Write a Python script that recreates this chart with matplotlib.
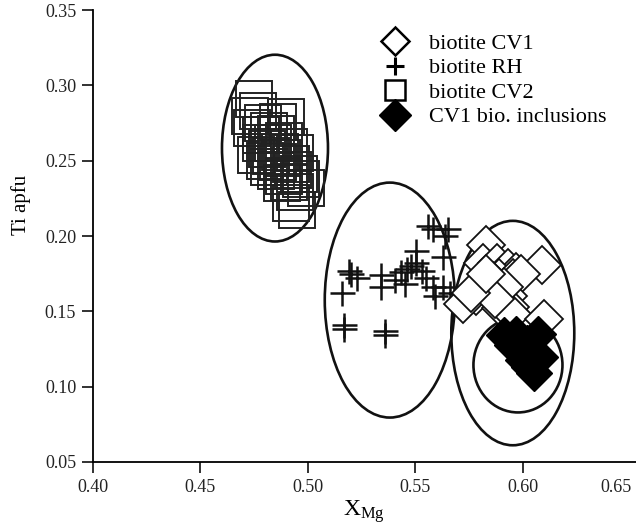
import matplotlib
matplotlib.use("Agg")
import matplotlib.pyplot as plt
import matplotlib.transforms as mtransforms
from matplotlib.patches import Ellipse
from matplotlib.lines import Line2D

plt.rcParams['font.family'] = ['Liberation Serif', 'DejaVu Serif']
plt.rcParams['mathtext.fontset'] = 'custom'
plt.rcParams['mathtext.rm'] = 'Liberation Serif'
plt.rcParams['mathtext.it'] = 'Liberation Serif:italic'

# biotite CV2 (open squares)
cv2_x = [0.475, 0.473, 0.477, 0.490, 0.474, 0.479, 0.482, 0.485, 0.478, 0.481,
         0.484, 0.487, 0.489, 0.491, 0.476, 0.480, 0.483, 0.486, 0.488, 0.492,
         0.494, 0.485, 0.489, 0.493, 0.496, 0.482, 0.488, 0.491, 0.497, 0.494,
         0.492, 0.495, 0.499, 0.478, 0.486]
cv2_y = [0.291, 0.280, 0.283, 0.279, 0.272, 0.275, 0.270, 0.268, 0.262, 0.258,
         0.262, 0.256, 0.263, 0.259, 0.254, 0.250, 0.253, 0.249, 0.252, 0.248,
         0.255, 0.243, 0.240, 0.244, 0.241, 0.246, 0.235, 0.236, 0.238, 0.229,
         0.222, 0.217, 0.232, 0.267, 0.276]

# biotite RH (plus)
rh_x = [0.556, 0.558, 0.565, 0.564, 0.5505, 0.563, 0.519, 0.520, 0.523, 0.534,
        0.534, 0.5405, 0.5435, 0.546, 0.548, 0.5505, 0.553, 0.558, 0.559, 0.563,
        0.566, 0.516, 0.517, 0.517, 0.536, 0.536, 0.545, 0.555]
rh_y = [0.207, 0.205, 0.205, 0.200, 0.190, 0.186, 0.177, 0.175, 0.172, 0.174,
        0.166, 0.171, 0.176, 0.178, 0.180, 0.182, 0.177, 0.166, 0.160, 0.166,
        0.162, 0.162, 0.141, 0.138, 0.137, 0.134, 0.168, 0.172]

# biotite CV1 (open diamonds)
cv1_x = [0.583, 0.609, 0.5815, 0.588, 0.593, 0.597, 0.589, 0.586, 0.5815, 0.580,
         0.578, 0.572, 0.5955, 0.599, 0.593, 0.594, 0.590, 0.595, 0.610, 0.585,
         0.591, 0.587, 0.576, 0.583]
cv1_y = [0.194, 0.181, 0.182, 0.182, 0.179, 0.176, 0.172, 0.170, 0.168, 0.164,
         0.160, 0.155, 0.172, 0.175, 0.160, 0.153, 0.152, 0.148, 0.145, 0.163,
         0.166, 0.158, 0.162, 0.175]

# CV1 bio. inclusions (filled diamonds)
inc_x = [0.591, 0.597, 0.607, 0.602, 0.605, 0.608, 0.603, 0.605, 0.595, 0.600]
inc_y = [0.134, 0.135, 0.135, 0.129, 0.122, 0.120, 0.113, 0.109, 0.128, 0.118]

# ellipses: centre x, centre y, width, height
ell_x = [0.4847, 0.5381, 0.5953, 0.5977]
ell_y = [0.2584, 0.1575, 0.1356, 0.1144]
ell_w = [0.0493, 0.0605, 0.0572, 0.0414]
ell_h = [0.124, 0.156, 0.149, 0.063]

fig = plt.figure(figsize=(6.36, 5.26), dpi=100)
ax = fig.add_axes([0.146, 0.1217, 0.854, 0.859])

ax.plot(cv2_x, cv2_y, 's', ms=26, mfc='none', mec='#222222', mew=1.4)
ax.plot(rh_x, rh_y, '+', ms=18, mec='#111111', mew=1.8)
ax.plot(cv1_x, cv1_y, 'D', ms=19, mfc='white', mec='#111111', mew=1.3)
ax.plot(inc_x, inc_y, 'D', ms=18, mfc='black', mec='black', mew=1)

for x, y, w, h in zip(ell_x, ell_y, ell_w, ell_h):
    ax.add_patch(Ellipse((x, y), w, h, fill=False, ec='#111111', lw=1.9))

ax.set_xlim(0.40, 0.6526)
ax.set_ylim(0.05, 0.35)
ax.set_xticks([0.40, 0.45, 0.50, 0.55, 0.60, 0.65])
ax.set_yticks([0.05, 0.10, 0.15, 0.20, 0.25, 0.30, 0.35])
ax.set_xticklabels(['0.40', '0.45', '0.50', '0.55', '0.60', '0.65'])
ax.set_yticklabels(['0.05', '0.10', '0.15', '0.20', '0.25', '0.30', '0.35'])
ax.spines['top'].set_visible(False)
ax.spines['right'].set_visible(False)
ax.spines['left'].set_linewidth(1.3)
ax.spines['bottom'].set_linewidth(1.3)
ax.tick_params(direction='out', length=8, width=1.3, labelsize=13, pad=4, colors='#222222')

# last x tick: no visible tick mark, label pulled inside the figure
last = ax.xaxis.get_major_ticks()[-1]
last.tick1line.set_visible(False)
last.label1.set_transform(last.label1.get_transform() +
                          mtransforms.ScaledTranslation(-0.14, 0, fig.dpi_scale_trans))

ax.set_xlabel('X$_{\\mathrm{Mg}}$', fontsize=17, labelpad=2)
ax.set_ylabel('Ti apfu', fontsize=15)
ax.yaxis.set_label_coords(-0.114, 0.57)

handles = [
    Line2D([], [], ls='none', marker='D', ms=14, mfc='white', mec='black', mew=1.8),
    Line2D([], [], ls='none', marker='+', ms=13, mec='black', mew=2.2),
    Line2D([], [], ls='none', marker='s', ms=15, mfc='none', mec='black', mew=1.8),
    Line2D([], [], ls='none', marker='D', ms=16, mfc='black', mec='black'),
]
labels = ['biotite CV1', 'biotite RH', 'biotite CV2', 'CV1 bio. inclusions']
fig.legend(handles, labels, loc='upper left', bbox_to_anchor=(0.583, 0.958),
           frameon=False, fontsize=16, handlelength=1.2, handletextpad=0.9,
           labelspacing=0.18, borderpad=0)

fig.savefig('out.png', dpi=100, facecolor='white')
